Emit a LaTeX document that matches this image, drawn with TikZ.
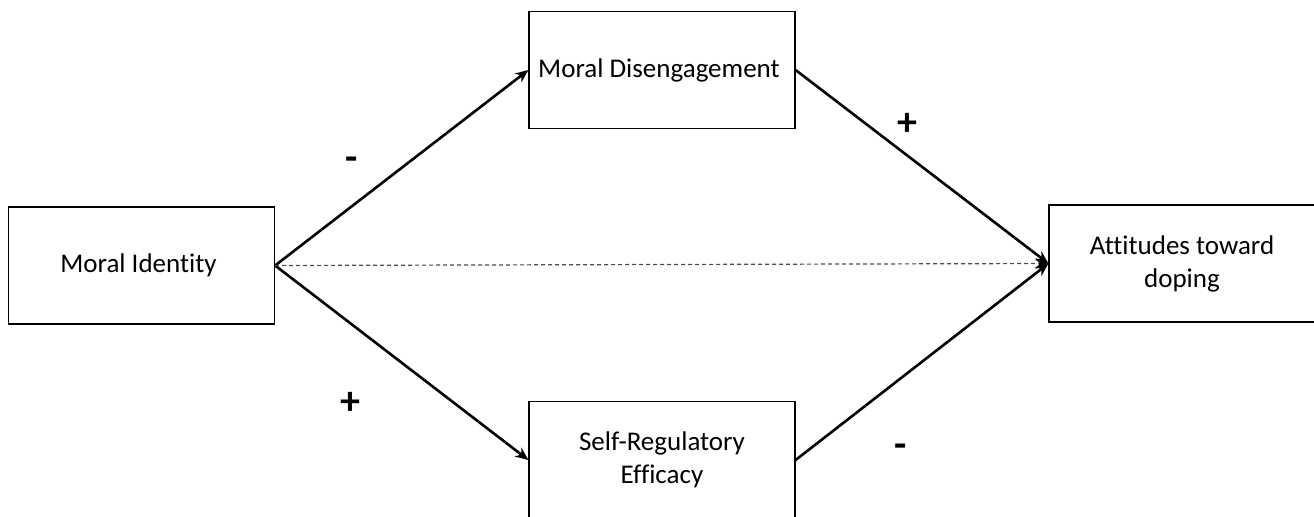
\documentclass[tikz,border=0pt]{standalone}
\usepackage{fontspec}
\setmainfont{Carlito}[Ligatures = {NoCommon}]
\usetikzlibrary{positioning, arrows.meta}

\begin{document}
\begin{tikzpicture}[x = 0.5pt, y = -0.5pt,
    every node/.style = { align = center },
    box/.style = { draw, line width = 0.6pt, minimum width = 133pt, minimum height = 58.5pt,
                   font = \fontsize{13.5}{16.5}\selectfont },
    sign/.style = { font = \fontsize{20}{22}\selectfont\bfseries },
    link/.style = { line width = 1.3pt, -{Stealth[length = 6.5pt, width = 5.5pt]} }]
      \useasboundingbox (0,0) rectangle (1314,516);
      \node [box] (identity)  at (141.5,265.5) { Moral Identity };
      \node [box] (disengage) at (662,70)      { Moral Disengagement };
      \node [box] (efficacy)  at (662,460)     { Self-Regulatory \\ Efficacy };
      \node [box] (doping)    at (1182,263.5)  { Attitudes toward \\ doping };
      % paths
      \draw [link] (identity.east) -- (disengage.west);
      \draw [link] (identity.east) -- (efficacy.west);
      \draw [link] (disengage.east) -- (doping.west);
      \draw [link] (efficacy.east) -- (doping.west);
      \draw [black!70, line width = 0.6pt, dash pattern = on 2pt off 1.5pt,
             -{Stealth[length = 6.5pt, width = 5.5pt, black]}] (identity.east) -- (doping.west);
      % signs
      \node [sign] (a) at (356,164) { - };
      \node [sign] (b) at (355,403) { + };
      \node [sign] (c) at (912,124) { + };
      \node [sign] (d) at (905,451) { - };
    \end{tikzpicture}
\end{document}
